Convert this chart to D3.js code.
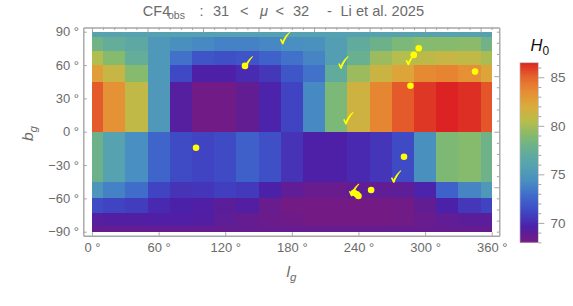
<!DOCTYPE html>
<html><head><meta charset="utf-8">
<script src="https://cdn.jsdelivr.net/npm/d3@7/dist/d3.min.js"></script>
<style>html,body{margin:0;padding:0;background:#fff}svg{display:block}text{font-family:"Liberation Sans",sans-serif}</style>
</head><body><svg id="c" width="573" height="306"></svg>
<script>
const lonEdges=[0,10,30,50,70,90,110,130,150,170,190,210,230,250,270,290,310,330,350,360];
const latEdges=[90,85,73,60,45,0,-45,-60,-73,-85,-90];
const row0=[75.9,75.9,75.8,75.7,75.7,75.7,75.7,75.7,75.7,75.7,75.7,75.7,75.8,75.8,75.9,75.9,75.8,75.7,75.7];
const row1=[78,77.2,76.6,75,74.4,74,73.7,73.7,73.9,74.3,74.5,75.5,77,77.8,78.6,79,79,79.1,78];
const row2=[80.2,79,77.3,75,73,71.7,71.5,71.7,72.3,73,73.8,75.5,77.6,79.6,80.3,80.6,81,80.8,80];
const row3=[82.6,81,79,75,71.2,69.5,69.5,70,70.5,71.8,73,77,79.6,81.2,82.3,83.6,83.8,83.3,82.3];
const row4=[85.2,83.2,80.8,75,69.2,68.2,68.2,68.7,69.7,71,74,78.6,81.4,83.7,85.2,86,86.5,86.2,85.3];
const row5=[77.8,75.8,74.3,72.5,71.3,71,71.3,72.2,71.5,70.3,69.5,69.5,69.9,70.4,71.3,74.4,78.7,79,77.9];
const row6=[74.8,73.7,72.8,71,70.3,70.4,70.8,70.6,69.6,68.8,68.5,68.5,68.8,68.8,68.9,69.7,72.3,73.8,75];
const row7=[71.3,71,70.7,69.9,69.6,69.4,69,69.3,68.5,68.1,68.1,68.1,68.1,68.1,68.2,68.7,69.6,70.5,71];
const row8=[69.2,69.3,69.3,69.4,69.4,69.3,68.9,68.6,68.4,68.3,68.1,68.1,68.1,68.1,68.2,68.5,68.8,69,69];
const row9=[68.6,68.6,68.6,68.6,68.6,68.6,68.6,68.6,68.6,68.6,68.6,68.6,68.6,68.6,68.6,68.6,68.6,68.6,68.6];
const rows=[row0,row1,row2,row3,row4,row5,row6,row7,row8,row9];
const dotLon=[137.8,294.3,289.8,345,286.8,93.7,281,251.4,238.5,240,236];
const dotLat=[59.2,75.1,69.1,54.1,41.4,-14.4,-22.5,-52.5,-56.4,-57.9,-55];
const checkLon=[173.9,226.4,287.1,230.9,273.9,236,140.3];
const checkLat=[83.5,61.6,64.6,11.4,-41.1,-53.2,61.6];
const xTicks=[0,60,120,180,240,300,360];
const yTicks=[-90,-60,-30,0,30,60,90];
const colorStops=["#761a82","#4c20a8","#3f46c4","#3f68cb","#488dc2","#55a1b1","#63ad99","#7fb972","#b5bd4c","#d9ad3c","#e68e34","#e6642c","#dc2222"];
const barTicks=[70,75,80,85];

const svg=d3.select("#c");
const x=d3.scaleLinear([0,360],[92,491.7]);
const y=d3.scaleLinear([-90,90],[231.7,31.7]);
const vmin=68,vmax=86.5;
const color=d3.scaleLinear(d3.range(colorStops.length).map(i=>vmin+(vmax-vmin)*i/(colorStops.length-1)),colorStops);
const grey="#6b6b6b",frame="#a6a6a6";

rows.forEach((r,i)=>{
  svg.append("g").attr("shape-rendering","crispEdges").selectAll("rect").data(r).join("rect")
    .attr("x",(d,j)=>x(lonEdges[j])).attr("width",(d,j)=>x(lonEdges[j+1])-x(lonEdges[j]))
    .attr("y",y(latEdges[i])).attr("height",y(latEdges[i+1])-y(latEdges[i]))
    .attr("fill",d=>color(d));
});

const L=83.3,R=499.3,T=27.5,B=235.7;
function style(g){g.select(".domain").attr("stroke",frame).attr("stroke-width",1.4);
  g.selectAll(".tick line").attr("stroke",frame).attr("stroke-width",1);
  g.selectAll("text").attr("fill",grey).attr("font-size",13).attr("font-family","'Liberation Sans',sans-serif");}
const xFrame=x.copy().domain([x.invert(L),x.invert(R)]).range([L,R]);
const yFrame=y.copy().domain([y.invert(B),y.invert(T)]).range([B,T]);
const fmtY=d=>(d<0?"\u2212"+(-d):d)+" \u00b0";
svg.append("g").attr("transform",`translate(0,${B})`).call(d3.axisBottom(xFrame).tickValues(xTicks).tickSize(-3.5).tickSizeOuter(0).tickPadding(6.8).tickFormat(d=>d+" \u00b0")).call(style);
svg.append("g").attr("transform",`translate(${L},0)`).call(d3.axisLeft(yFrame).tickValues(yTicks).tickSize(-3.5).tickSizeOuter(0).tickPadding(4.3).tickFormat(fmtY)).call(style);
const topMinor=d3.range(0,361,10), rightMinor=d3.range(-90,91,10);
const gt=svg.append("g").attr("transform",`translate(0,${T})`).call(d3.axisTop(xFrame).tickValues(topMinor).tickSize(-2.5).tickSizeOuter(0).tickFormat("")).call(style);
gt.selectAll(".tick line").attr("y2",d=>d%50===0?5:2.5);
const gr=svg.append("g").attr("transform",`translate(${R},0)`).call(d3.axisRight(yFrame).tickValues(rightMinor).tickSize(-2.5).tickSizeOuter(0).tickFormat("")).call(style);
gr.selectAll(".tick line").attr("x2",d=>d%50===0?-5:-2.5);

const checkPath="M-5.2,0.6 L-3.9,-0.1 L-2.6,2.2 C-0.8,-1.8 1.6,-4.8 4.6,-7.2 L5.2,-6.6 C2.4,-3.4 0,0.6 -1.7,5.4 L-3,5.4 Z";
svg.append("g").selectAll("path").data(checkLon).join("path")
  .attr("d",checkPath).attr("fill","#ffff00")
  .attr("transform",(d,i)=>`translate(${x(d)},${y(checkLat[i])})`);
svg.append("g").selectAll("circle").data(dotLon).join("circle")
  .attr("cx",d=>x(d)).attr("cy",(d,i)=>y(dotLat[i])).attr("r",3.3).attr("fill","#ffff00");

// title
const title=svg.append("text").attr("y",15.5).attr("fill",grey).attr("font-size",14.6);
[["CF4",142.7],[":",199.6],["31",213],["<",240],["\u03bc",260,"italic"],["<",275.5],["32",293],["-",327],["Li et al. 2025",340.5]].forEach(p=>{
  title.append("tspan").attr("x",p[1]).attr("font-style",p[2]||"normal").text(p[0]);
});
svg.append("text").attr("x",168).attr("y",19).attr("fill",grey).attr("font-size",10.5).text("obs");

// axis labels
const xl=svg.append("text").attr("x",286.5).attr("y",277).attr("fill",grey).attr("font-size",15.5).attr("font-style","italic");
xl.append("tspan").text("l");
xl.append("tspan").attr("dy",3.5).attr("font-size",11.5).text("g");
const yl=svg.append("text").attr("transform","translate(33,141) rotate(-90)").attr("fill",grey).attr("font-size",15.5).attr("font-style","italic");
yl.append("tspan").text("b");
yl.append("tspan").attr("dy",3.5).attr("font-size",11.5).text("g");

// colour bar
const bar=d3.scaleLinear([vmin,vmax],[242.3,62.7]);
const bx=520,bw=18.3;
const steps=d3.range(vmin,vmax,(vmax-vmin)/90);
svg.append("g").attr("shape-rendering","crispEdges").selectAll("rect").data(steps).join("rect")
  .attr("x",bx).attr("width",bw).attr("y",d=>bar(d+(vmax-vmin)/90)).attr("height",d=>bar(d)-bar(d+(vmax-vmin)/90)+0.5).attr("fill",d=>color(d));
svg.append("rect").attr("x",bx).attr("y",62.7).attr("width",bw).attr("height",179.6).attr("fill","none").attr("stroke","#b5b5b5").attr("stroke-width",0.7);
const gb=svg.append("g").attr("transform",`translate(${bx+bw},0)`).call(d3.axisRight(bar).tickValues(d3.range(68,87,1)).tickSize(3).tickPadding(9.2).tickSizeOuter(0).tickFormat(d=>barTicks.includes(d)?d:"")).call(style);
gb.select(".domain").remove();
gb.selectAll(".tick line").attr("x2",d=>barTicks.includes(d)?6:3);
gb.selectAll("text").attr("font-size",13.5);
const hl=svg.append("text").attr("x",530.5).attr("y",51).attr("fill","#111").attr("font-size",16.5).attr("font-style","italic");
hl.append("tspan").text("H");
hl.append("tspan").attr("dy",3.5).attr("font-size",12).attr("font-style","normal").text("0");
</script></body></html>
